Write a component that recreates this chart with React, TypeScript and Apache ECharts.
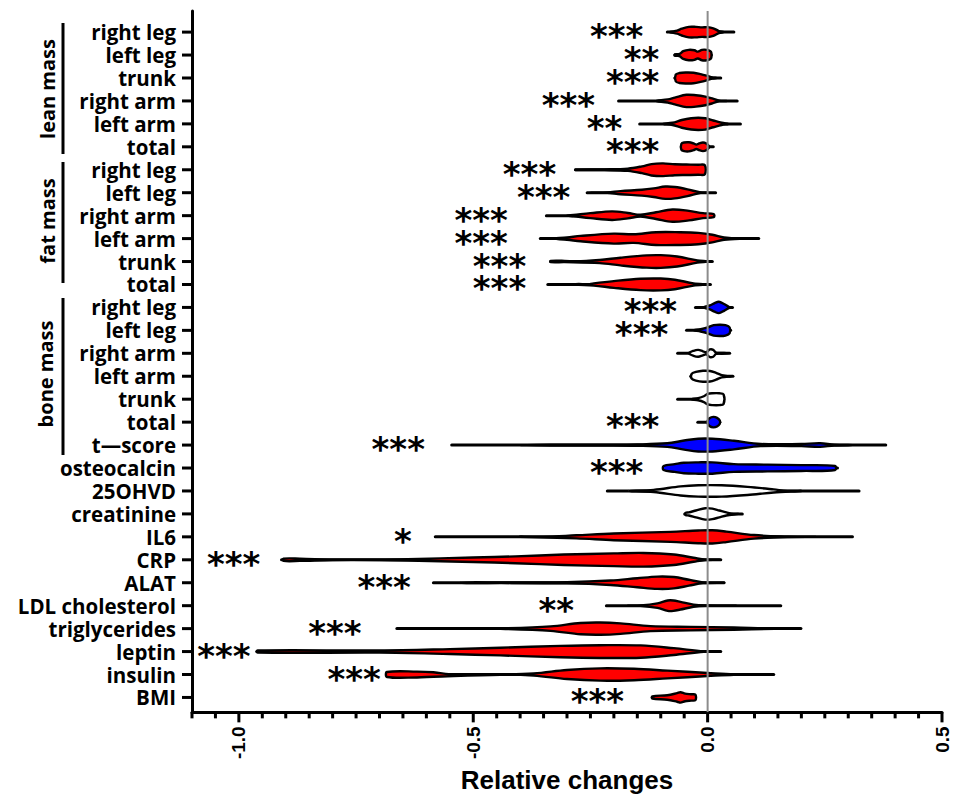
import React, { useEffect, useRef } from "react";
import * as echarts from "echarts";

// ---------- data ----------
const categories = [
  "right leg", "left leg", "trunk", "right arm", "left arm", "total",
  "right leg", "left leg", "right arm", "left arm", "trunk", "total",
  "right leg", "left leg", "right arm", "left arm", "trunk", "total", "t\u2014score",
  "osteocalcin", "25OHVD", "creatinine", "IL6", "CRP", "ALAT", "LDL cholesterol",
  "triglycerides", "leptin", "insulin", "BMI",
];

// r = decrease (red), b = increase (blue), w = n.s. (white)
const violinColor = [
  "r", "r", "r", "r", "r", "r",
  "r", "r", "r", "r", "r", "r",
  "b", "b", "w", "w", "w", "b", "b",
  "b", "w", "w", "r", "r", "r", "r", "r", "r", "r", "r",
];

const whiskerLo = [
  -0.086, -0.07, -0.07, -0.19, -0.145, -0.056,
  -0.282, -0.257, -0.344, -0.357, -0.335, -0.341,
  -0.026, -0.045, -0.064, -0.036, -0.064, -0.021, -0.546,
  -0.094, -0.214, -0.049, -0.581, -0.909, -0.585, -0.216, -0.663, -0.962, -0.684, -0.118,
];
const whiskerHi = [
  0.056, 0.008, 0.028, 0.063, 0.07, 0.012,
  -0.006, 0.017, 0.013, 0.109, 0.01, 0.006,
  0.053, 0.049, 0.047, 0.054, 0.034, 0.026, 0.38,
  0.277, 0.323, 0.074, 0.309, 0.028, 0.035, 0.156, 0.199, 0.028, 0.141, -0.026,
];

// violin bodies: [relative change, half width as fraction of a row]
const leanRightLeg = [[-0.08,0.06],[-0.065,0.12],[-0.055,0.2],[-0.04,0.28],[-0.025,0.28],[-0.012,0.26],[0.0,0.27],[0.012,0.22],[0.024,0.1],[0.035,0.0]];
const leanLeftLeg = [[-0.07,0.08],[-0.06,0.1],[-0.052,0.22],[-0.04,0.28],[-0.028,0.26],[-0.021,0.2],[-0.012,0.28],[-0.002,0.28],[0.006,0.22],[0.008,0.15]];
const leanTrunk = [[-0.068,0.2],[-0.06,0.27],[-0.045,0.29],[-0.03,0.28],[-0.015,0.22],[0.0,0.14],[0.01,0.08],[0.02,0.0]];
const leanRightArm = [[-0.11,0.0],[-0.085,0.12],[-0.07,0.2],[-0.045,0.32],[-0.025,0.3],[-0.005,0.24],[0.01,0.16],[0.025,0.06],[0.04,0.0]];
const leanLeftArm = [[-0.095,0.0],[-0.075,0.1],[-0.055,0.22],[-0.035,0.3],[-0.02,0.32],[-0.005,0.3],[0.012,0.2],[0.03,0.1],[0.045,0.0]];
const leanTotal = [[-0.056,0.18],[-0.05,0.24],[-0.04,0.25],[-0.03,0.2],[-0.024,0.15],[-0.018,0.2],[-0.01,0.24],[-0.003,0.2],[0.003,0.08]];
const fatRightLeg = [[-0.282,0.06],[-0.22,0.07],[-0.17,0.1],[-0.14,0.2],[-0.12,0.3],[-0.095,0.33],[-0.07,0.29],[-0.045,0.28],[-0.02,0.27],[-0.006,0.25]];
const fatLeftLeg = [[-0.25,0.05],[-0.214,0.06],[-0.186,0.12],[-0.14,0.18],[-0.115,0.24],[-0.09,0.32],[-0.07,0.3],[-0.043,0.2],[-0.015,0.06],[0.0,0.0]];
const fatRightArm = [[-0.3,0.0],[-0.286,0.08],[-0.25,0.16],[-0.204,0.24],[-0.17,0.17],[-0.143,0.09],[-0.11,0.2],[-0.075,0.32],[-0.04,0.26],[-0.01,0.16],[0.013,0.12]];
const fatLeftArm = [[-0.33,0.04],[-0.3,0.1],[-0.271,0.17],[-0.2,0.27],[-0.158,0.24],[-0.11,0.33],[-0.06,0.33],[-0.02,0.3],[0.01,0.22],[0.035,0.1],[0.06,0.04],[0.08,0.0]];
const fatTrunk = [[-0.335,0.08],[-0.305,0.08],[-0.28,0.04],[-0.23,0.12],[-0.186,0.22],[-0.13,0.32],[-0.1,0.33],[-0.065,0.27],[-0.022,0.1],[0.0,0.04]];
const fatTotal = [[-0.29,0.0],[-0.275,0.07],[-0.258,0.05],[-0.243,0.1],[-0.2,0.2],[-0.143,0.3],[-0.1,0.31],[-0.07,0.26],[-0.03,0.1],[0.0,0.03]];
const boneRightLeg = [[-0.008,0.0],[0.005,0.14],[0.015,0.24],[0.024,0.3],[0.035,0.2],[0.045,0.08],[0.05,0.0]];
const boneLeftLeg = [[-0.03,0.0],[-0.015,0.1],[0.0,0.18],[0.013,0.28],[0.025,0.3],[0.038,0.28],[0.047,0.18]];
const boneRightArm = [[-0.04,0.0],[-0.03,0.16],[-0.02,0.2],[-0.01,0.14],[-0.003,0.1],[0.005,0.22],[0.012,0.2],[0.018,0.08],[0.03,0.07],[0.045,0.05]];
const boneLeftArm = [[-0.034,0.16],[-0.025,0.24],[-0.01,0.29],[0.005,0.28],[0.018,0.2],[0.03,0.1],[0.042,0.04],[0.05,0.0]];
const boneTrunk = [[-0.035,0.0],[-0.02,0.1],[-0.008,0.18],[0.0,0.28],[0.01,0.31],[0.025,0.31],[0.034,0.26]];
const boneTotal = [[0.0,0.1],[0.004,0.22],[0.012,0.28],[0.02,0.24],[0.026,0.12]];
const tScore = [[-0.4,0.0],[-0.335,0.07],[-0.214,0.07],[-0.15,0.08],[-0.086,0.13],[-0.05,0.25],[-0.02,0.33],[0.01,0.33],[0.056,0.24],[0.113,0.1],[0.2,0.1],[0.24,0.13],[0.27,0.07],[0.31,0.0]];
const osteocalcin = [[-0.094,0.14],[-0.07,0.22],[-0.051,0.28],[-0.02,0.3],[0.01,0.3],[0.056,0.22],[0.128,0.2],[0.2,0.18],[0.272,0.14]];
const vitD = [[-0.17,0.0],[-0.115,0.1],[-0.058,0.25],[-0.02,0.3],[0.03,0.3],[0.085,0.23],[0.141,0.12],[0.17,0.05],[0.2,0.0]];
const creatinine = [[-0.047,0.1],[-0.04,0.12],[-0.025,0.2],[-0.005,0.3],[0.01,0.28],[0.025,0.2],[0.04,0.12],[0.055,0.04],[0.065,0.0]];
const il6 = [[-0.4,0.0],[-0.35,0.05],[-0.28,0.12],[-0.2,0.2],[-0.079,0.27],[-0.02,0.33],[0.01,0.34],[0.04,0.28],[0.099,0.13],[0.17,0.06],[0.2,0.04],[0.23,0.0]];
const crp = [[-0.905,0.1],[-0.87,0.1],[-0.8,0.06],[-0.7,0.06],[-0.64,0.08],[-0.5,0.15],[-0.41,0.2],[-0.307,0.28],[-0.2,0.33],[-0.137,0.35],[-0.072,0.28],[-0.03,0.14],[-0.005,0.06],[0.025,0.05]];
const alat = [[-0.53,0.0],[-0.5,0.07],[-0.44,0.06],[-0.3,0.08],[-0.207,0.15],[-0.15,0.25],[-0.107,0.32],[-0.072,0.3],[-0.04,0.18],[-0.01,0.07],[0.02,0.04],[0.035,0.03]];
const ldl = [[-0.17,0.0],[-0.143,0.06],[-0.107,0.15],[-0.085,0.28],[-0.073,0.28],[-0.058,0.22],[-0.03,0.1],[-0.005,0.06],[0.03,0.05],[0.06,0.0]];
const triglycerides = [[-0.5,0.0],[-0.442,0.06],[-0.335,0.15],[-0.271,0.3],[-0.229,0.32],[-0.186,0.28],[-0.122,0.16],[-0.036,0.13],[0.056,0.1],[0.128,0.05],[0.17,0.0]];
const leptin = [[-0.96,0.1],[-0.7,0.1],[-0.55,0.16],[-0.442,0.22],[-0.314,0.3],[-0.229,0.33],[-0.143,0.32],[-0.072,0.2],[-0.008,0.06],[0.025,0.05]];
const insulin = [[-0.684,0.16],[-0.62,0.18],[-0.585,0.15],[-0.542,0.05],[-0.442,0.06],[-0.371,0.1],[-0.3,0.25],[-0.229,0.32],[-0.157,0.3],[-0.086,0.22],[0.0,0.12],[0.056,0.06],[0.1,0.0]];
const bmi = [[-0.118,0.1],[-0.086,0.15],[-0.065,0.24],[-0.058,0.28],[-0.048,0.22],[-0.035,0.19],[-0.026,0.17]];

const violinBodies = [
  leanRightLeg, leanLeftLeg, leanTrunk, leanRightArm, leanLeftArm, leanTotal,
  fatRightLeg, fatLeftLeg, fatRightArm, fatLeftArm, fatTrunk, fatTotal,
  boneRightLeg, boneLeftLeg, boneRightArm, boneLeftArm, boneTrunk, boneTotal, tScore,
  osteocalcin, vitD, creatinine, il6, crp, alat, ldl, triglycerides, leptin, insulin, bmi,
];

// significance marks
const starRows = [0, 1, 2, 3, 4, 5, 6, 7, 8, 9, 10, 11, 12, 13, 17, 18, 19, 22, 23, 24, 25, 26, 27, 28, 29];
const starX = [-0.194, -0.141, -0.16, -0.297, -0.22, -0.16, -0.38, -0.35, -0.483, -0.483, -0.444, -0.444,
  -0.122, -0.141, -0.16, -0.66, -0.194, -0.65, -1.011, -0.69, -0.323, -0.795, -1.032, -0.754, -0.235];
const starText = ["***", "**", "***", "***", "**", "***", "***", "***", "***", "***", "***", "***",
  "***", "***", "***", "***", "***", "*", "***", "***", "**", "***", "***", "***", "***"];

const xTickLabels = [-1.0, -0.5, 0.0, 0.5];
const xMinorTicks = [-1.1, -1.05, -1.0, -0.95, -0.9, -0.85, -0.8, -0.75, -0.7, -0.65, -0.6, -0.55, -0.5,
  -0.45, -0.4, -0.35, -0.3, -0.25, -0.2, -0.15, -0.1, -0.05, 0.0, 0.05, 0.1, 0.15, 0.2, 0.25, 0.3,
  0.35, 0.4, 0.45, 0.5];
const X_MIN = -1.1;
const X_MAX = 0.5;
const Y_MIN = -0.92;
const Y_MAX = 29.65;
const rowIdx = categories.map((_, i) => i);

const groups = [
  { label: "lean mass", x: 47, y: 89, y1: 23, y2: 154 },
  { label: "fat mass", x: 47, y: 221, y1: 162, y2: 283 },
  { label: "bone mass", x: 45, y: 374, y1: 298, y2: 455 },
];

const fillOf: Record<string, string> = { r: "#ff0000", b: "#0000ff", w: "#ffffff" };
const LABEL_FONT = "'Open Sans', 'Noto Sans', sans-serif";
const AXIS_FONT = "'Liberation Sans', Arial, sans-serif";

export default function App() {
  const ref = useRef<HTMLDivElement>(null);
  useEffect(() => {
    if (!ref.current) return;
    const chart = echarts.init(ref.current, null, { renderer: "svg" });

    const violinRender = (params: any, api: any) => {
      const i = params.dataIndex;
      const row = api.value(0);
      const rowPx = api.size([0, 1])[1];
      const yc = api.coord([0, row])[1];
      const xLo = api.coord([whiskerLo[i], row])[0];
      const xHi = api.coord([whiskerHi[i], row])[0];
      const top: number[][] = [];
      const bottom: number[][] = [];
      violinBodies[i].forEach(([x, hw]) => {
        const px = api.coord([x, row])[0];
        const h = Math.max(0, hw * rowPx - 1.2);
        top.push([px, yc - h]);
        if (h > 0.05) bottom.push([px, yc + h]);
      });
      const pts = top.concat(bottom.reverse());
      return {
        type: "group",
        children: [
          {
            type: "line",
            shape: { x1: xLo, y1: yc, x2: xHi, y2: yc },
            style: { stroke: "#000", lineWidth: 3, lineCap: "round" },
          },
          {
            type: "polygon",
            shape: { points: pts, smooth: 0.35 },
            style: { fill: fillOf[violinColor[i]], stroke: "#000", lineWidth: 2.4, lineJoin: "round" },
          },
        ],
      };
    };

    const starRender = (params: any, api: any) => {
      const i = params.dataIndex;
      const p = api.coord([api.value(0), api.value(1)]);
      return {
        type: "text",
        x: p[0],
        y: p[1] + 4,
        style: {
          text: starText[i],
          fill: "#000",
          font: "bold 34px 'DejaVu Sans', sans-serif",
          lineHeight: 20,
          align: "center",
          verticalAlign: "middle",
        },
      };
    };

    // x-axis ticks (major ones longer)
    const xTickRender = (params: any, api: any) => {
      const v = api.value(0);
      const p = api.coord([v, Y_MAX]);
      const major = xTickLabels.some((t) => Math.abs(t - v) < 1e-6);
      return {
        type: "line",
        shape: { x1: p[0], y1: p[1], x2: p[0], y2: p[1] + (major ? 10 : 6) },
        style: { stroke: "#000", lineWidth: 3 },
      };
    };

    chart.setOption({
      animation: false,
      backgroundColor: "#fff",
      grid: { left: 192, right: 20, top: 11, bottom: 85, containLabel: false },
      xAxis: {
        type: "value",
        min: X_MIN,
        max: X_MAX,
        position: "bottom",
        name: "Relative changes",
        nameLocation: "middle",
        nameGap: 49,
        nameTextStyle: { fontFamily: AXIS_FONT, fontWeight: "bold", fontSize: 26, color: "#000" },
        axisLine: { show: true, onZero: false, lineStyle: { color: "#000", width: 3 } },
        axisTick: { show: false },
        axisLabel: {
          show: true,
          customValues: xTickLabels,
          rotate: 90,
          margin: 14,
          formatter: (v: number) => v.toFixed(1),
          fontFamily: AXIS_FONT,
          fontWeight: "bold",
          fontSize: 19,
          color: "#000",
        },
        splitLine: { show: false },
      },
      yAxis: {
        type: "value",
        inverse: true,
        min: Y_MIN,
        max: Y_MAX,
        axisLine: { show: true, onZero: false, lineStyle: { color: "#000", width: 3 } },
        axisTick: { show: false },
        axisLabel: {
          show: true,
          customValues: rowIdx,
          margin: 16,
          lineHeight: 22,
          formatter: (v: number) => categories[Math.round(v)] ?? "",
          fontFamily: LABEL_FONT,
          fontWeight: "bold",
          fontSize: 20.5,
          color: "#000",
        },
        splitLine: { show: false },
      },
      series: [
        {
          type: "custom",
          name: "violins",
          renderItem: violinRender,
          data: rowIdx.map((r) => [r]),
          encode: { y: 0 },
          silent: true,
        },
        {
          type: "line",
          name: "zero",
          data: [[0, Y_MIN], [0, Y_MAX]],
          symbol: "none",
          lineStyle: { color: "#8c8c8c", width: 2 },
          silent: true,
          z: 5,
        },
        {
          type: "custom",
          name: "stars",
          renderItem: starRender,
          data: starRows.map((r, k) => [starX[k], r]),
          encode: { x: 0, y: 1 },
          silent: true,
          z: 6,
        },
        {
          type: "custom",
          name: "xTicks",
          renderItem: xTickRender,
          data: xMinorTicks.map((v) => [v]),
          encode: { x: 0 },
          clip: false,
          silent: true,
          z: 7,
        },
      ],
    });

    // group labels + y-axis ticks (ticks placed through the axis scale)
    const graphics: any[] = [];
    groups.forEach((g) => {
      graphics.push({
        type: "text",
        x: g.x,
        y: g.y,
        rotation: Math.PI / 2,
        style: {
          text: g.label,
          fill: "#000",
          font: `bold 20px ${LABEL_FONT}`,
          align: "center",
          verticalAlign: "middle",
        },
      });
      graphics.push({
        type: "line",
        shape: { x1: 63, y1: g.y1, x2: 63, y2: g.y2 },
        style: { stroke: "#000", lineWidth: 3 },
      });
    });
    rowIdx.forEach((r) => {
      const p = chart.convertToPixel({ gridIndex: 0 }, [X_MIN, r]) as number[];
      if (!p) return;
      graphics.push({
        type: "line",
        z: 100,
        shape: { x1: p[0] - 10, y1: p[1], x2: p[0], y2: p[1] },
        style: { stroke: "#000", lineWidth: 3 },
      });
    });
    chart.setOption({ graphic: graphics });

    return () => chart.dispose();
  }, []);
  return (
    <div
      ref={ref}
      style={{ position: "fixed", left: 0, top: 0, width: 962, height: 798 }}
    />
  );
}
